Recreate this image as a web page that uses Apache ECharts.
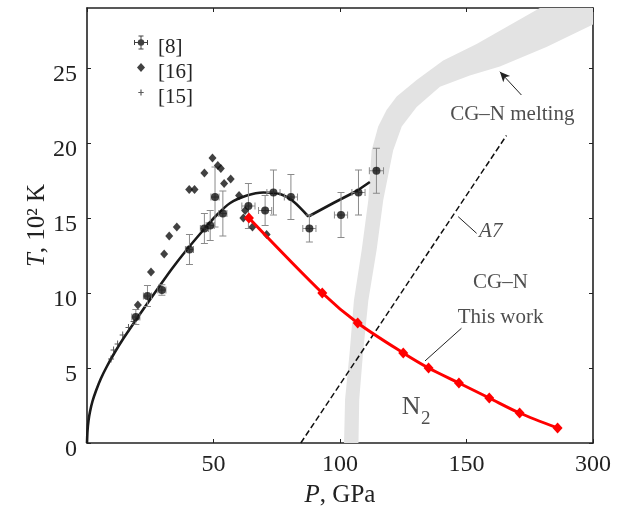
<!DOCTYPE html>
<html><head><meta charset="utf-8">
<script src="https://cdn.jsdelivr.net/npm/echarts@6/dist/echarts.min.js"></script>
<style>html,body{margin:0;padding:0;background:#fff}#c{width:631px;height:506px}</style>
</head><body><div id="c"></div>
<script>
// ---- data (P in GPa, T in 10^2 K) ----
const ref8 = [ // P, T, dP, dT
  [19.3,8.4,1.6,0.5],[23.9,9.8,1.6,0.7],[29.6,10.2,1.6,0.35],[40.5,12.9,1.6,1.0],
  [46.4,14.3,1.6,1.0],[48.7,14.5,1.6,1.0],[50.6,16.4,1.6,2.0],[53.7,15.3,1.6,1.5],
  [63.8,15.8,2.6,1.5],[70.4,15.5,2.6,1.0],[73.7,16.7,2.6,1.5],[80.6,16.4,2.6,1.5],
  [87.9,14.3,2.6,0.9],[100.4,15.2,2.6,1.5],[107.3,16.7,2.6,1.5],[114.4,18.15,2.8,1.5]
];
const ref16 = [
  [20.1,9.2],[25.3,11.4],[30.5,12.6],[32.5,13.8],[35.5,14.4],[40.4,16.9],[42.5,16.9],
  [46.4,18.0],[49.6,19.0],[51.7,18.5],[52.9,18.3],[54.2,17.3],[56.8,17.6],[60.1,16.5],
  [61.8,15.0],[62.5,15.5],[65.4,14.4],[71.0,13.9]
];
const ref15 = [[9.5,5.6],[10.5,6.2],[12.1,6.6],[14.1,7.2],[16.4,7.7],[18.4,8.1]];
const fitRise = [
  [0,0],[0.2,0.8],[0.6,1.5],[1.2,2.1],[2.2,2.8],[3.6,3.5],[5.5,4.3],[8,5.15],
  [11,6.05],[14.5,7.0],[18.5,8.0],[23,9.1],[28,10.3],[33.5,11.6],[39.5,12.9],
  [45.5,14.1],[51,15.15],[56.6,16.0],[63.2,16.5],[69.7,16.7],[76.3,16.6],[81.6,16.1],[87.5,15.1]
];
const fitTail = [[87.5,15.1],[97.4,16.0],[106.6,16.8],[111.8,17.4]];
const thisWork = [[64,15],[93,10],[107,8],[125,6],[135,5],[147,4],[159,3],[171,2],[186,1]];
const a7Line = [[84.5,0],[165.8,20.5]];
const meltLeft = [
  [101.6,0],[102.0,2.9],[103.9,6.2],[105.5,9.5],[108.6,12.9],[111.2,16.2],[112.5,19.5],
  [115.1,21.1],[118.4,22.2],[122.4,23.1],[130.3,24.2],[140.8,25.5],[154.0,26.6],[179.0,29.0],[200,29.0]
];
const meltRight = [
  [200,27.9],[181.6,26.4],[163.2,25.1],[151.3,24.5],[139.5,23.75],[130.3,22.4],[124.4,21.1],
  [121.0,19.5],[117.1,16.2],[114.5,12.9],[111.2,9.5],[109.2,6.2],[107.6,2.9],[107.3,0]
];
const xTickLabels = {0:'', 50:'50', 100:'100', 150:'150', 200:'300'};
const yTickLabels = {0:'0', 5:'5', 10:'10', 15:'15', 20:'20', 25:'25'};
const notes = [
  {text:'CG–N melting', at:[168.1,21.93]},
  {text:'CG–N', at:[163.4,10.73]},
  {text:'This work', at:[163.5,8.4]},
  {text:'A7', at:[159.6,14.07], italic:true},
  {text:'N', at:[128.1,2.37], big:true},
  {text:'2', at:[133.9,1.6], sub:true}
];
const leaders = [
  [[148.0,7.65],[133.6,5.47]],
  [[146.7,15.09],[154.0,13.98]]
];
const arrowNote = [[171.7,23.2],[163.2,24.75]];

// ---- chart ----
const FONT = 'Liberation Serif, Times New Roman, serif';
const INK = '#222';
const chart = echarts.init(document.getElementById('c'), null, {renderer:'canvas'});

function corners(p){ return p + ' M0,0 L0,0 M16,16 L16,16'; }
const icon8 = 'path://' + corners(
  'M8,4.5 L10.5,5.5 L11.5,8 L10.5,10.5 L8,11.5 L5.5,10.5 L4.5,8 L5.5,5.5 Z ' +
  'M1,7.5 L15,7.5 L15,8.5 L1,8.5 Z M7.5,1 L8.5,1 L8.5,15 L7.5,15 Z ' +
  'M1,5.5 L2,5.5 L2,10.5 L1,10.5 Z M14,5.5 L15,5.5 L15,10.5 L14,10.5 Z ' +
  'M5.5,1 L10.5,1 L10.5,2 L5.5,2 Z M5.5,14 L10.5,14 L10.5,15 L5.5,15 Z');
const iconD = 'path://' + corners('M8,3.5 L12,8 L8,12.5 L4,8 Z');
const iconC = 'path://' + corners('M7.4,5 L8.6,5 L8.6,11 L7.4,11 Z M5.3,7.4 L10.7,7.4 L10.7,8.6 L5.3,8.6 Z');
const crossSym = 'path://M2.5,0 L3.5,0 L3.5,7 L2.5,7 Z M0,3 L6,3 L6,4 L0,4 Z';

function renderErr(params, api){
  const p = api.value(0), t = api.value(1), dp = api.value(2), dt = api.value(3);
  const L = api.coord([p-dp,t]), R = api.coord([p+dp,t]);
  const T = api.coord([p,t+dt]), B = api.coord([p,t-dt]);
  const c = 3.5, st = {stroke:'#8a8a8a', lineWidth:1};
  const ln = (x1,y1,x2,y2)=>({type:'line', shape:{x1,y1,x2,y2}, style:st});
  return {type:'group', children:[
    ln(L[0],L[1],R[0],R[1]), ln(L[0],L[1]-c,L[0],L[1]+c), ln(R[0],R[1]-c,R[0],R[1]+c),
    ln(T[0],T[1],B[0],B[1]), ln(T[0]-c,T[1],T[0]+c,T[1]), ln(B[0]-c,B[1],B[0]+c,B[1])
  ]};
}
function renderBand(params, api){
  const pts = meltLeft.concat(meltRight).map(d=>api.coord(d));
  return {type:'polygon', shape:{points:pts}, style:{fill:'#e3e3e3'}};
}

const axisCommon = {
  axisLine:{show:true, onZero:false, lineStyle:{color:INK, width:1.6}},
  axisTick:{show:true, inside:true, length:4, lineStyle:{color:INK, width:1}},
  splitLine:{show:false}
};

chart.setOption({
  animation:false,
  backgroundColor:'#fff',
  grid:{left:87, right:38, top:8, bottom:63, containLabel:false, outerBoundsMode:'none'},
  legend:{
    orient:'vertical', left:133, top:27, padding:0,
    itemWidth:16, itemHeight:16, itemGap:-6, selectedMode:false,
    formatter:'{t|{name}}',
    textStyle:{fontFamily:FONT, fontSize:21, color:INK,
      rich:{t:{fontFamily:FONT, fontSize:21, color:INK, lineHeight:16, padding:[10,0,0,4]}}},
    data:[{name:'[8]', icon:icon8},{name:'[16]', icon:iconD},{name:'[15]', icon:iconC}]
  },
  xAxis:[
    Object.assign({type:'value', min:0, max:200, interval:50, position:'bottom',
      name:'{i|P}, GPa', nameLocation:'middle', nameGap:40, nameMoveOverlap:false,
      nameTextStyle:{fontFamily:FONT, fontSize:25, color:INK, rich:{i:{fontFamily:FONT, fontSize:25, fontStyle:'italic', color:INK}}},
      axisLabel:{fontFamily:FONT, fontSize:24, color:INK, margin:10, showMaxLabel:true,
        formatter:v=> (xTickLabels[v] !== undefined ? xTickLabels[v] : '')}}, axisCommon),
    Object.assign({type:'value', min:0, max:200, interval:50, position:'top',
      axisLabel:{show:false}}, axisCommon)
  ],
  yAxis:[
    Object.assign({type:'value', min:0, max:29, interval:5, position:'left',
      name:'{i|T}, 10² K', nameLocation:'middle', nameGap:37, nameMoveOverlap:false,
      nameTextStyle:{fontFamily:FONT, fontSize:25, color:INK, rich:{i:{fontFamily:FONT, fontSize:25, fontStyle:'italic', color:INK}}},
      axisLabel:{fontFamily:FONT, fontSize:24, color:INK, margin:10, showMaxLabel:false,
        rich:{a:{fontFamily:FONT, fontSize:24, color:INK, padding:[14,0,0,0]}},
        formatter:v=> (yTickLabels[v] !== undefined ? '{a|' + yTickLabels[v] + '}' : '')}}, axisCommon),
    Object.assign({type:'value', min:0, max:29, interval:5, position:'right',
      axisLabel:{show:false}}, axisCommon)
  ],
  series:[
    {type:'custom', name:'melting', silent:true, z:1, renderItem:renderBand,
      data:[[150,20]], encode:{x:0,y:1}},
    {type:'line', name:'A7', data:a7Line, symbol:'none', z:2, silent:true,
      lineStyle:{color:'#111', width:1.5, type:[6,3]}},
    {type:'line', name:'fitRise', data:fitRise, symbol:'none', smooth:0.25, z:3, silent:true,
      lineStyle:{color:'#1a1a1a', width:2.6}},
    {type:'line', name:'fitTail', data:fitTail, symbol:'none', smooth:false, z:3, silent:true,
      lineStyle:{color:'#1a1a1a', width:2.6}},
    {type:'custom', name:'err8', z:4, renderItem:renderErr, data:ref8,
      encode:{x:0,y:1}, silent:true},
    {type:'scatter', name:'[8]', data:ref8.map(d=>[d[0],d[1]]), symbol:'circle', symbolSize:8, z:5,
      itemStyle:{color:'#111'}},
    {type:'scatter', name:'[16]', data:ref16, symbol:'diamond', symbolSize:[8,9], z:5,
      itemStyle:{color:'#111'}},
    {type:'scatter', name:'[15]', data:ref15, symbol:crossSym, symbolSize:[6,7], z:5,
      itemStyle:{color:'#333'}},
    {type:'line', name:'This work', data:thisWork, smooth:0.3, symbol:'diamond', symbolSize:[10,11],
      showAllSymbol:true, z:6, lineStyle:{color:'#ff0000', width:3}, itemStyle:{color:'#ff0000'}},
    {type:'line', name:'lead1', data:leaders[0], symbol:'none', z:6, silent:true,
      lineStyle:{color:INK, width:1}},
    {type:'line', name:'lead2', data:leaders[1], symbol:'none', z:6, silent:true,
      lineStyle:{color:INK, width:1}},
    {type:'scatter', name:'notes', symbolSize:0, z:7, silent:true,
      data:notes.map(n=>({value:n.at, name:n.text,
        label:{fontStyle:n.italic?'italic':'normal', fontSize:n.big?26:(n.sub?19:21)}})),
      label:{show:true, position:'inside', formatter:'{b}', fontFamily:FONT, fontSize:21, color:INK},
      markLine:{silent:true, symbol:['none','arrow'], symbolSize:[7,10],
        lineStyle:{color:INK, width:1, type:'solid'}, label:{show:false},
        data:[[{coord:arrowNote[0]},{coord:arrowNote[1]}]]}}
  ]
});
</script></body></html>
